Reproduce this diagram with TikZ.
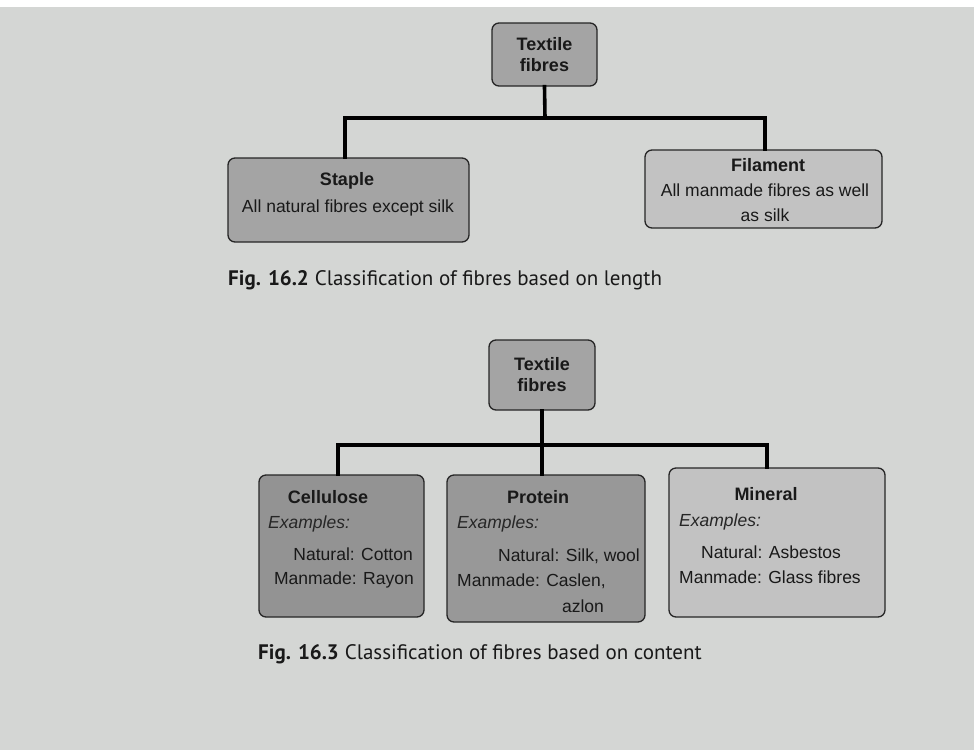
\documentclass[tikz,border=0pt]{standalone}
\usepackage{fontspec}
\setmainfont{Liberation Sans}
\newfontfamily\capfont{PT Sans}
\begin{document}
\begin{tikzpicture}[x=1pt,y=-1pt,
  box/.style={draw=black!85,line width=1.3pt,rounded corners=7pt,inner sep=0pt},
  conn/.style={line width=3.6pt,line cap=rect},
  txt/.style={inner sep=0pt,text=black!90,font=\fontsize{17.5}{21}\selectfont},
  btxt/.style={inner sep=0pt,text=black!90,font=\fontsize{18}{21}\selectfont\bfseries},
  itxt/.style={inner sep=0pt,text=black!85,font=\fontsize{17.5}{21}\selectfont\itshape},
  captxt/.style={inner sep=0pt,anchor=base west,text=black!90,font=\fontsize{21}{24}\selectfont\capfont}]
\definecolor{page}{HTML}{D4D6D4}
\definecolor{midg}{HTML}{A4A4A4}
\definecolor{darkg}{HTML}{939393}
\definecolor{lightg}{HTML}{C2C2C2}
\useasboundingbox (0,0) rectangle (974,750);
\fill[page] (0,0) rectangle (974,750);
\fill[white] (0,0) rectangle (974,7);
% ---------- Fig 16.2 ----------
\node[box,fill=midg,minimum width=105pt,minimum height=63pt] (tf1) at (544.5,54.5) {};
\node[btxt,align=center] (tf1t) at (544.5,55) {Textile\\fibres};
\node[box,fill=midg,minimum width=241pt,minimum height=84pt] (st) at (348.5,200) {};
\node[btxt] (stt) at (347,181) {Staple};
\node[txt] (std) at (348,208) {All natural fibres except silk};
\node[box,fill=lightg,minimum width=237pt,minimum height=78pt] (fi) at (763.5,189) {};
\node[btxt] (fit) at (768,165) {Filament};
\node[txt,align=center] (fid) at (765,203) {All manmade fibres as well\\[4pt]as silk};
\coordinate (j1) at (545,118);
\draw[conn] (tf1.south) -- (j1);
\draw[conn] (st.north -| 345,0) |- (j1) -| (fi.north -| 765,0);
\node[captxt] (cap1) at (228,285) {\textbf{Fig. 16.2}\hspace{6pt}Classification of fibres based on length};
% ---------- Fig 16.3 ----------
\node[box,fill=midg,minimum width=106pt,minimum height=70pt] (tf2) at (542,375) {};
\node[btxt,align=center] (tf2t) at (542,375) {Textile\\fibres};
\node[box,fill=darkg,minimum width=165pt,minimum height=142pt] (ce) at (341.5,546) {};
\node[box,fill=darkg!90!lightg,minimum width=198pt,minimum height=147pt] (pr) at (546,548.5) {};
\node[box,fill=lightg,minimum width=216pt,minimum height=149pt] (mi) at (777,542.5) {};
\coordinate (j2) at (542,445);
\draw[conn] (tf2.south) -- (j2);
\draw[conn] (ce.north -| 338,0) |- (j2) -| (mi.north -| 767,0);
\draw[conn] (j2) -- (pr.north -| 542,0);
% Cellulose
\node[btxt] (cet) at (328,497) {Cellulose};
\node[itxt,anchor=west] (cee) at (268,524) {Examples:};
\node[txt,anchor=east] (cen) at (413,554) {Natural: Cotton};
\node[txt,anchor=east] (cem) at (414,580) {Manmade: Rayon};
% Protein
\node[btxt] (prt) at (538,497) {Protein};
\node[itxt,anchor=west] (pre) at (457,524) {Examples:};
\node[txt,anchor=east] (prn) at (640,556) {Natural: Silk, wool};
\node[txt,anchor=west] (prm) at (457,581) {Manmade: Caslen,};
\node[txt] (pra) at (583,606) {azlon};
% Mineral
\node[btxt] (mit) at (766,494) {Mineral};
\node[itxt,anchor=west] (mie) at (679,522) {Examples:};
\node[txt,anchor=west] (min) at (701,552) {Natural: Asbestos};
\node[txt,anchor=west] (mim) at (679,577) {Manmade: Glass fibres};
\node[captxt] (cap2) at (258,659) {\textbf{Fig. 16.3}\hspace{6pt}Classification of fibres based on content};
\end{tikzpicture}
\end{document}
